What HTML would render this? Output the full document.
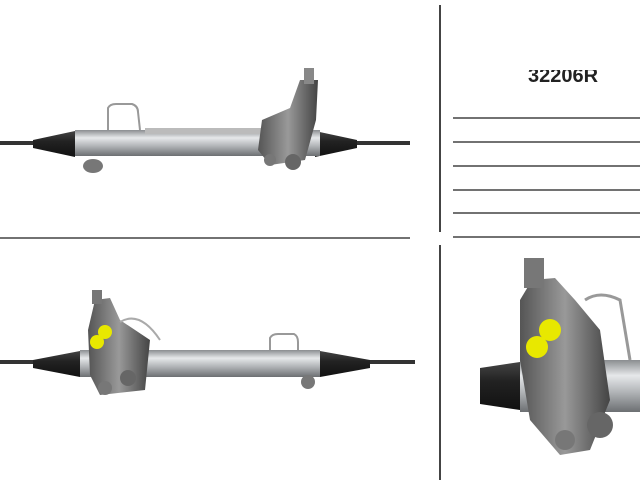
<!DOCTYPE html>
<html><head><meta charset="utf-8"><style>
html,body{margin:0;padding:0;background:#fff;width:640px;height:480px;overflow:hidden}
</style></head><body>
<svg width="640" height="480" viewBox="0 0 640 480" xmlns="http://www.w3.org/2000/svg">
<defs>
<linearGradient id="tube" x1="0" y1="0" x2="0" y2="1">
<stop offset="0" stop-color="#8a8d90"/><stop offset="0.3" stop-color="#e6e8ea"/><stop offset="0.6" stop-color="#b4b7ba"/><stop offset="1" stop-color="#6c6f72"/></linearGradient>
<linearGradient id="boot" x1="0" y1="0" x2="0" y2="1">
<stop offset="0" stop-color="#444"/><stop offset="0.4" stop-color="#222"/><stop offset="1" stop-color="#111"/></linearGradient>
<linearGradient id="dark" x1="0" y1="0" x2="1" y2="0">
<stop offset="0" stop-color="#555"/><stop offset="0.5" stop-color="#999"/><stop offset="1" stop-color="#444"/></linearGradient>
</defs>
<line x1="440" y1="5" x2="440" y2="232" stroke="#444" stroke-width="2"/>
<line x1="440" y1="245" x2="440" y2="480" stroke="#444" stroke-width="2"/>
<line x1="0" y1="238" x2="410" y2="238" stroke="#444" stroke-width="1.5"/>
<g stroke="#444" stroke-width="1.5">
<line x1="453" y1="118" x2="640" y2="118"/><line x1="453" y1="142" x2="640" y2="142"/>
<line x1="453" y1="166" x2="640" y2="166"/><line x1="453" y1="190" x2="640" y2="190"/>
<line x1="453" y1="213" x2="640" y2="213"/><line x1="453" y1="237" x2="640" y2="237"/>
</g>
<text x="563" y="82" font-family="Liberation Sans, sans-serif" font-size="20" font-weight="bold" text-anchor="middle" fill="#222">32206R</text>
<rect x="510" y="55" width="110" height="15" fill="#fff"/>

<g>
<rect x="0" y="141" width="410" height="4" fill="#333"/>
<path d="M33 140 L75 131 L75 157 L33 148Z" fill="url(#boot)"/>
<path d="M315 131 L357 140 L357 148 L315 157Z" fill="url(#boot)"/>
<rect x="75" y="130" width="245" height="26" fill="url(#tube)"/>
<rect x="145" y="128" width="120" height="6" fill="#bbb"/>
<path d="M108 130 V108 Q110 104 116 104 H132 Q138 106 138 112 L140 130" fill="none" stroke="#999" stroke-width="2"/>
<ellipse cx="93" cy="166" rx="10" ry="7" fill="#777"/>
<path d="M262 120 L290 108 L300 80 L318 80 L316 120 L305 160 L270 165 L258 150Z" fill="url(#dark)"/>
<rect x="304" y="68" width="10" height="16" fill="#888"/>
<circle cx="293" cy="162" r="8" fill="#666"/>
<circle cx="270" cy="160" r="6" fill="#777"/>
</g>

<g>
<rect x="0" y="360" width="415" height="4" fill="#333"/>
<path d="M33 360 L80 351 L80 377 L33 368Z" fill="url(#boot)"/>
<path d="M320 351 L370 360 L370 368 L320 377Z" fill="url(#boot)"/>
<rect x="80" y="350" width="240" height="27" fill="url(#tube)"/>
<path d="M270 350 V338 Q272 334 278 334 H294 Q298 336 298 342 V350" fill="none" stroke="#999" stroke-width="2"/>
<path d="M88 330 L95 300 L110 298 L120 320 L150 340 L145 390 L100 395 L90 375Z" fill="url(#dark)"/>
<rect x="92" y="290" width="10" height="14" fill="#777"/>
<circle cx="105" cy="332" r="7" fill="#e8e800"/>
<circle cx="97" cy="342" r="7" fill="#e8e800"/>
<circle cx="128" cy="378" r="8" fill="#666"/>
<circle cx="105" cy="388" r="7" fill="#777"/>
<path d="M120 322 Q140 310 160 340" fill="none" stroke="#aaa" stroke-width="2"/>
<circle cx="308" cy="382" r="7" fill="#777"/>
</g>

<g>
<path d="M480 368 L520 362 L520 410 L480 404Z" fill="url(#boot)"/>
<rect x="520" y="360" width="120" height="52" fill="url(#tube)"/>
<path d="M520 300 L532 280 L555 278 L575 300 L600 330 L610 400 L590 450 L560 455 L530 420 L520 360Z" fill="url(#dark)"/>
<rect x="524" y="258" width="20" height="30" fill="#777"/>
<circle cx="550" cy="330" r="11" fill="#e8e800"/>
<circle cx="537" cy="347" r="11" fill="#e8e800"/>
<circle cx="600" cy="425" r="13" fill="#666"/>
<circle cx="565" cy="440" r="10" fill="#777"/>
<path d="M585 300 Q600 290 620 300 L630 360" fill="none" stroke="#999" stroke-width="3"/>
</g>
</svg>
</body></html>
